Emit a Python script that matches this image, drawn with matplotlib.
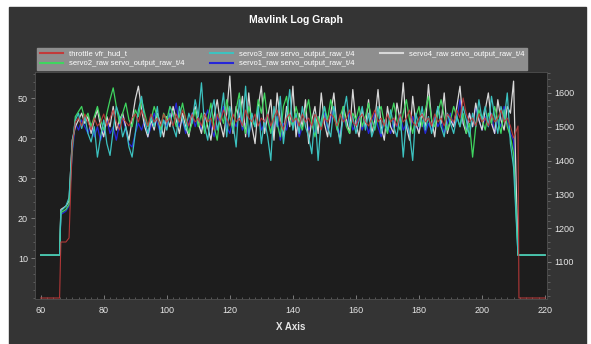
import matplotlib
matplotlib.use("Agg")
import matplotlib.pyplot as plt
from matplotlib.patches import Rectangle
from matplotlib.ticker import MultipleLocator

# ---------------- data ----------------
head_t = [60, 66, 66.4, 68, 69, 70]
body_t = list(range(71, 211))
tail_t = [211.4, 211.7, 220]
time = head_t + body_t + tail_t

throttle = [0, 0, 14, 14, 15, 38] + [
    44, 45, 43, 46, 44, 42, 45, 43, 44, 46,
    43, 45, 47, 44, 42, 45, 44, 43, 45, 46,
    44, 47, 45, 43, 46, 44, 45, 43, 46, 44,
    45, 43, 46, 44, 47, 45, 43, 46, 44, 45,
    43, 46, 44, 45, 42, 46, 44, 47, 45, 43,
    46, 44, 45, 43, 47, 45, 44, 46, 43, 45,
    44, 46, 43, 45, 47, 44, 42, 45, 46, 44,
    45, 43, 46, 44, 45, 43, 46, 44, 42, 45,
    44, 46, 45, 43, 46, 44, 45, 47, 44, 43,
    45, 46, 44, 43, 45, 47, 44, 45, 43, 46,
    44, 45, 43, 46, 44, 45, 47, 44, 43, 45,
    46, 44, 45, 43, 46, 44, 45, 43, 46, 45,
    44, 47, 45, 50, 46, 44, 45, 43, 46, 44,
    45, 43, 46, 44, 45, 47, 44, 45, 43, 40] + [43, 0, 0]

servo3 = [1120, 1120, 1250, 1265, 1290, 1450] + [
    1520, 1540, 1495, 1530, 1480, 1455, 1500, 1410, 1470, 1520,
    1450, 1415, 1490, 1560, 1530, 1470, 1500, 1440, 1410, 1480,
    1550, 1590, 1520, 1480, 1530, 1500, 1560, 1470, 1520, 1490,
    1540, 1500, 1470, 1560, 1520, 1490, 1540, 1510, 1580, 1530,
    1630, 1500, 1460, 1540, 1580, 1490, 1530, 1600, 1470, 1560,
    1510, 1440, 1580, 1500, 1620, 1470, 1540, 1500, 1560, 1450,
    1520, 1470, 1400, 1560, 1500, 1590, 1450, 1530, 1610, 1490,
    1540, 1480, 1560, 1500, 1470, 1420, 1540, 1400, 1520, 1560,
    1500, 1470, 1560, 1510, 1450, 1540, 1590, 1500, 1530, 1480,
    1520, 1560, 1490, 1540, 1470, 1500, 1560, 1480, 1520, 1490,
    1550, 1500, 1470, 1540, 1410, 1520, 1480, 1400, 1540, 1500,
    1560, 1490, 1530, 1480, 1520, 1560, 1500, 1470, 1540, 1510,
    1480, 1530, 1500, 1560, 1520, 1470, 1540, 1500, 1580, 1520,
    1560, 1500, 1590, 1530, 1480, 1560, 1520, 1600, 1450, 1380] + [1120, 1120, 1120]

servo2 = [1120, 1120, 1245, 1255, 1270, 1430] + [
    1530, 1545, 1560, 1520, 1540, 1500, 1530, 1560, 1520, 1490,
    1540, 1580, 1615, 1560, 1510, 1540, 1570, 1520, 1500, 1550,
    1530, 1580, 1540, 1500, 1520, 1560, 1530, 1490, 1540, 1520,
    1560, 1540, 1500, 1530, 1570, 1520, 1480, 1510, 1550, 1500,
    1540, 1480, 1520, 1570, 1500, 1460, 1540, 1510, 1580, 1530,
    1490, 1550, 1600, 1520, 1480, 1560, 1520, 1500, 1580, 1540,
    1600, 1520, 1480, 1550, 1510, 1470, 1560, 1590, 1520, 1500,
    1560, 1520, 1490, 1540, 1580, 1510, 1470, 1530, 1500, 1560,
    1520, 1580, 1540, 1490, 1530, 1560, 1500, 1480, 1540, 1520,
    1560, 1500, 1530, 1570, 1520, 1490, 1540, 1560, 1510, 1480,
    1530, 1570, 1520, 1490, 1540, 1580, 1520, 1480, 1530, 1560,
    1500, 1550, 1590, 1520, 1500, 1540, 1580, 1530, 1490, 1520,
    1560, 1530, 1500, 1540, 1480, 1510, 1410, 1500, 1550, 1520,
    1490, 1540, 1510, 1560, 1520, 1480, 1550, 1500, 1470, 1420] + [1120, 1120, 1120]

servo4 = [1120, 1120, 1255, 1265, 1280, 1460] + [
    1500, 1520, 1540, 1510, 1530, 1480, 1520, 1550, 1500, 1470,
    1530, 1500, 1560, 1490, 1520, 1540, 1500, 1460, 1520, 1580,
    1620, 1550, 1500, 1470, 1520, 1490, 1540, 1510, 1470, 1530,
    1500, 1560, 1520, 1480, 1540, 1500, 1470, 1530, 1560, 1510,
    1480, 1540, 1500, 1460, 1530, 1580, 1510, 1470, 1540, 1650,
    1480, 1560, 1520, 1590, 1470, 1600, 1500, 1450, 1560, 1620,
    1480, 1530, 1580, 1460, 1600, 1520, 1470, 1560, 1500, 1620,
    1470, 1540, 1500, 1580, 1450, 1520, 1560, 1480, 1600, 1510,
    1470, 1540, 1600, 1500, 1460, 1560, 1520, 1480, 1610, 1510,
    1470, 1550, 1500, 1580, 1480, 1520, 1610, 1500, 1460, 1560,
    1500, 1480, 1570, 1520, 1630, 1500, 1460, 1590, 1510, 1480,
    1540, 1500, 1625, 1520, 1470, 1560, 1510, 1600, 1480, 1520,
    1500, 1560, 1620, 1510, 1480, 1540, 1500, 1570, 1520, 1490,
    1550, 1600, 1510, 1480, 1580, 1520, 1490, 1560, 1540, 1635] + [1120, 1120, 1120]

servo1 = [1120, 1120, 1240, 1250, 1265, 1420] + [
    1510, 1490, 1520, 1500, 1480, 1510, 1470, 1500, 1460, 1490,
    1520, 1480, 1500, 1460, 1510, 1530, 1490, 1450, 1440, 1480,
    1510, 1490, 1520, 1470, 1500, 1540, 1510, 1480, 1520, 1500,
    1560, 1530, 1570, 1500, 1520, 1480, 1510, 1540, 1500, 1530,
    1490, 1520, 1550, 1500, 1470, 1530, 1510, 1560, 1500, 1480,
    1520, 1500, 1540, 1490, 1510, 1470, 1530, 1500, 1550, 1490,
    1510, 1540, 1480, 1500, 1530, 1460, 1510, 1490, 1540, 1500,
    1520, 1470, 1500, 1540, 1490, 1510, 1480, 1530, 1500, 1540,
    1490, 1520, 1560, 1500, 1480, 1530, 1500, 1540, 1490, 1510,
    1530, 1490, 1520, 1480, 1510, 1540, 1500, 1470, 1520, 1500,
    1480, 1520, 1500, 1540, 1490, 1510, 1470, 1530, 1500, 1490,
    1520, 1480, 1510, 1490, 1530, 1500, 1520, 1480, 1510, 1540,
    1500, 1520, 1580, 1510, 1490, 1540, 1500, 1560, 1520, 1490,
    1530, 1500, 1540, 1480, 1520, 1500, 1560, 1510, 1480, 1460] + [1120, 1120, 1120]

labels = ["throttle vfr_hud_t",
          "servo2_raw servo_output_raw_t/4",
          "servo3_raw servo_output_raw_t/4",
          "servo1_raw servo_output_raw_t/4",
          "servo4_raw servo_output_raw_t/4"]
colors = ["#c23a3a", "#3fd65f", "#3cc2c0", "#2626d8", "#d8d8d8"]

x_ticks = [60, 80, 100, 120, 140, 160, 180, 200, 220]
left_ticks = [10, 20, 30, 40, 50]
right_ticks = [1100, 1200, 1300, 1400, 1500, 1600]

# ---------------- figure ----------------
W, H = 591, 344
fig = plt.figure(figsize=(W / 100, H / 100), dpi=100, facecolor="white")
fig.patches.append(Rectangle((9 / W, 0), (586 - 9) / W, 1 - 7 / H,
                             transform=fig.transFigure, color="#343434", zorder=-10))

ax = fig.add_axes([35 / W, 1 - 299 / H, (547 - 35) / W, (299 - 72) / H])
ax2 = ax.twinx()
# throttle (left axis) drawn above the servo lines
ax.set_zorder(ax2.get_zorder() + 1)
ax.patch.set_visible(False)
ax2.patch.set_visible(True)
ax2.patch.set_facecolor("#1d1d1d")

txt = "#e6e6e6"
l1, = ax2.plot(time, servo1, color=colors[3], lw=0.9)
l4, = ax2.plot(time, servo4, color=colors[4], lw=0.9)
l2, = ax2.plot(time, servo2, color=colors[1], lw=0.9)
l3, = ax2.plot(time, servo3, color=colors[2], lw=0.9)
l0, = ax.plot(time, throttle, color=colors[0], lw=0.8, alpha=0.9)

ax.set_xlim(58.2, 220.6)
ax.set_ylim(-0.25, 56.5)
ax2.set_ylim(990, 1662)

ax.set_xticks(x_ticks)
ax.set_yticks(left_ticks)
ax2.set_yticks(right_ticks)
ax.xaxis.set_minor_locator(MultipleLocator(2))
ax.yaxis.set_minor_locator(MultipleLocator(2))
ax2.yaxis.set_minor_locator(MultipleLocator(20))

for a in (ax, ax2):
    a.tick_params(colors="#8a8a8a", labelcolor=txt, labelsize=6.5,
                  length=3, width=0.6, direction="out", pad=2)
    a.tick_params(which="minor", colors="#707070", length=1.8, width=0.5, direction="out")
    for s in a.spines.values():
        s.set_color("#4a4a4a")
        s.set_linewidth(0.6)
ax.tick_params(axis="x", direction="in", which="both", pad=5)

ax.set_xlabel("X Axis", color=txt, fontsize=7, fontweight="bold",
              family="Liberation Sans", labelpad=5)
for lab in ax.get_xticklabels() + ax.get_yticklabels() + ax2.get_yticklabels():
    lab.set_family("Liberation Sans")

fig.text(0.5, 1 - 20 / H, "Mavlink Log Graph", color="white", fontsize=7.5,
         fontweight="bold", family="Liberation Sans", ha="center", va="center")

handles = [l0, l2, l3, l1, l4]
leg = fig.legend(handles, labels, loc="lower left",
                 bbox_to_anchor=(37 / W, 1 - 70 / H, (527 - 37) / W, 26 / H),
                 mode="expand", ncol=3, frameon=True, fancybox=False,
                 borderaxespad=0, handlelength=3, handletextpad=0.8,
                 labelspacing=0.3, borderpad=0.35, columnspacing=1.0,
                 prop={"family": "Liberation Sans", "size": 5.5})
leg.get_frame().set_facecolor("#8e8e8e")
leg.get_frame().set_edgecolor("#8e8e8e")
leg.get_frame().set_alpha(1)
for t in leg.get_texts():
    t.set_color("white")
for h in leg.legend_handles:
    h.set_linewidth(1.5)
    h.set_alpha(1)

fig.savefig("out.png", dpi=100, facecolor="white")
